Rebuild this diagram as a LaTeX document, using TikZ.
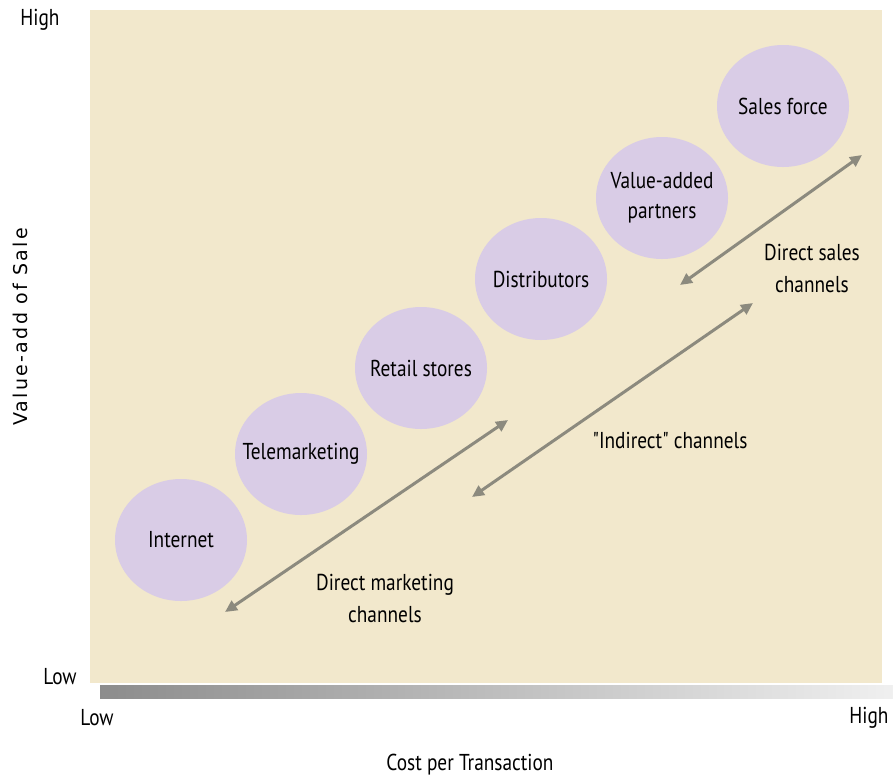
\documentclass[tikz,border=0pt]{standalone}
\usepackage{fontspec}
\setmainfont[FakeStretch=0.84]{PT Sans}
\newfontfamily\plainfont[FakeStretch=0.84]{PT Sans}
\newfontfamily\axisfont[LetterSpace=12]{DejaVu Sans}
\usetikzlibrary{positioning,arrows.meta,shapes.geometric}
\definecolor{paper}{RGB}{242,232,204}
\definecolor{lilac}{RGB}{217,204,230}
\definecolor{arrowgray}{RGB}{140,138,126}

\begin{document}
\begin{tikzpicture}[x=1pt,y=-1pt,
    channel/.style = {ellipse, fill=lilac, minimum width=132pt, minimum height=122pt,
                      inner xsep=-25pt, inner ysep=0pt, font=\fontsize{23}{30}\selectfont, align=center},
    flow/.style = {draw=arrowgray, line width=3pt, {Triangle[length=12pt,width=11pt]}-{Triangle[length=12pt,width=11pt]}},
    tag/.style = {font=\fontsize{23}{32}\selectfont, align=center},
    axis/.style = {font=\fontsize{23}{28}\selectfont}
    ]
    \useasboundingbox (0,0) rectangle (893,780);
    % background and cost bar
    \fill[paper] (90,10) rectangle (882,683);
    \shade[left color=black!45, right color=black!6] (100,685) rectangle (893,698);

    % channels
    \node[channel] (internet) at (181,540) {Internet};
    \node[channel] (tele) at (301,454) {Telemarketing};
    \node[channel] (retail) at (421,368) {Retail stores};
    \node[channel] (distrib) at (541,279) {Distributors};
    \node[channel] (partners) at (662,198) {Value-added\\partners};
    \node[channel] (salesforce) at (783,106) {Sales force};

    % arrows
    \coordinate (dm1) at (225,612);
    \coordinate (dm2) at (508,420);
    \coordinate (ind1) at (472,497);
    \coordinate (ind2) at (753,303);
    \coordinate (ds1) at (680,285);
    \coordinate (ds2) at (862,155);
    \draw[flow] (dm1) -- (dm2);
    \draw[flow] (ind1) -- (ind2);
    \draw[flow] (ds1) -- (ds2);

    \node[tag] (dmtag) at (385,598) {Direct marketing\\channels};
    \node[tag, font=\plainfont\fontsize{23}{32}\selectfont] (indtag) at (670,440) {"Indirect" channels};
    \node[tag] (dstag) at (812,268) {Direct sales\\channels};

    % axis labels
    \node[axis] (yhigh) at (40,20) {High};
    \node[axis] (ylow) at (60,677) {Low};
    \node[axis] (xlow) at (97,718) {Low};
    \node[axis] (xhigh) at (869,718) {High};
    \node[axis] (xtitle) at (470,765) {Cost per Transaction};
    \node[font=\axisfont\fontsize{19}{22}\selectfont, rotate=90] (ytitle) at (20,327) {Value-add of Sale};
\end{tikzpicture}
\end{document}
